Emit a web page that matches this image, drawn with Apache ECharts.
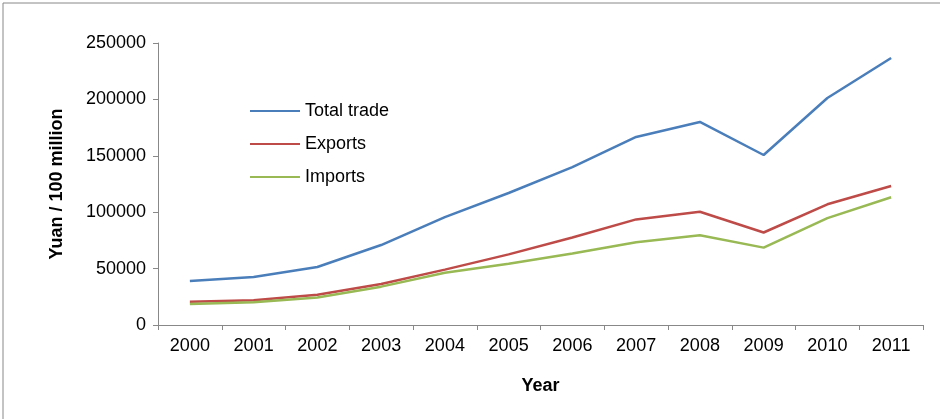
<!DOCTYPE html>
<html><head><meta charset="utf-8">
<script src="https://cdn.jsdelivr.net/npm/echarts@6/dist/echarts.min.js"></script>
<style>html,body{margin:0;padding:0;background:#fff}#c{width:940px;height:419px}</style>
</head><body><div id="c"></div>
<script>
const years = ['2000','2001','2002','2003','2004','2005','2006','2007','2008','2009','2010','2011']
const totalTrade = [39000, 42500, 51400, 70900, 95700, 117000, 140000, 166700, 180000, 150700, 201200, 236700]
const exportsData = [20600, 22000, 26900, 36300, 49100, 62600, 77600, 93600, 100400, 82000, 107000, 123200]
const importsData = [18600, 20200, 24400, 34000, 46400, 54300, 63400, 73300, 79500, 68600, 94700, 113200]

const chart = echarts.init(document.getElementById('c'))
const font = 'Liberation Sans, Arial, sans-serif'
function line (name, data, color) {
  return { name: name, type: 'line', data: data, symbol: 'none', lineStyle: { color: color, width: 2.5 }, itemStyle: { color: color } }
}
chart.setOption({
  animation: false,
  textStyle: { fontFamily: font },
  graphic: [{ type: 'rect', shape: { x: 3, y: 3, width: 960, height: 430 }, style: { fill: 'none', stroke: '#888', lineWidth: 1 } }],
  legend: {
    orient: 'vertical', left: 245, top: 97, itemGap: 15, itemWidth: 50, itemHeight: 2,
    icon: 'rect', textStyle: { fontSize: 18, color: '#000', fontFamily: font },
    data: ['Total trade', 'Exports', 'Imports']
  },
  grid: { left: 158, right: 17, top: 43, bottom: 94 },
  xAxis: {
    type: 'category', data: years, name: 'Year', nameLocation: 'middle', nameGap: 52,
    nameTextStyle: { fontSize: 18, fontWeight: 'bold', color: '#000' },
    axisLine: { lineStyle: { color: '#888' } },
    axisTick: { show: true, length: 5, lineStyle: { color: '#888' } },
    axisLabel: { fontSize: 18, color: '#000', margin: 12 }
  },
  yAxis: {
    type: 'value', min: 0, max: 250000, interval: 50000,
    name: 'Yuan / 100 million', nameLocation: 'middle', nameGap: 92,
    nameTextStyle: { fontSize: 18, fontWeight: 'bold', color: '#000' },
    axisLine: { show: true, lineStyle: { color: '#888' } },
    axisTick: { show: true, length: 5, lineStyle: { color: '#888' } },
    splitLine: { show: false },
    axisLabel: { fontSize: 18, color: '#000', margin: 12, formatter: function (v) { return String(v) } }
  },
  series: [
    line('Total trade', totalTrade, '#4a7ebb'),
    line('Exports', exportsData, '#be4b48'),
    line('Imports', importsData, '#98b954')
  ]
})
</script></body></html>
